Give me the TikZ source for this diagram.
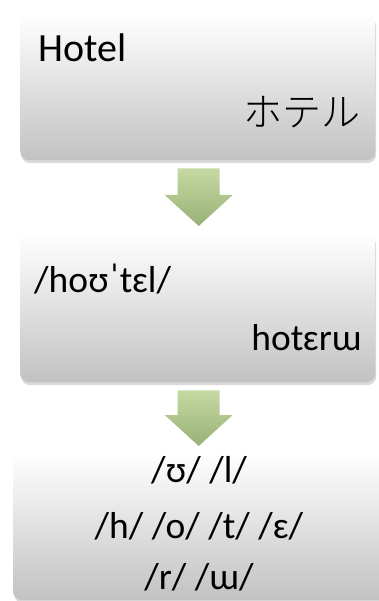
\documentclass[tikz,border=0pt]{standalone}
\usepackage{fontspec}
\setmainfont{Carlito}
\newfontfamily\jpfont{Noto Sans CJK JP Light}
\usetikzlibrary{calc,shadows}
\definecolor{greentop}{HTML}{C6D9A2}
\definecolor{greenbot}{HTML}{97B177}

\begin{document}
\begin{tikzpicture}[x=1pt, y=-1pt,
  card/.style={rounded corners=9pt, top color=white, bottom color=black!24,
    drop shadow={shadow xshift=1pt, shadow yshift=-3pt, opacity=0.3},
    minimum width=355pt, minimum height=146pt, anchor=north west, inner sep=0pt},
  word/.style={font=\fontsize{37.5}{45}\selectfont, inner sep=0pt},
  downarrow/.style={top color=greentop, bottom color=greenbot, draw=none}
]
\useasboundingbox (0,0) rectangle (379,601);
\clip (0,0) rectangle (379,601);
\node[card] (hotel) at (20,14) {};
\node[card, minimum height=149pt] (ipa) at (20,233) {};
\node[card, minimum width=400pt, minimum height=147pt] (phon) at (13,453) {};

\node[word, anchor=base west, font=\fontsize{40}{48}\selectfont] (en) at (38,62) {Hotel};
\node[word, anchor=base east, font=\jpfont\fontsize{39}{45}\selectfont] (jp) at (361,127) {ホテル};
\node[word, anchor=base west] (pron) at (34,292) {/hoʊˈtɛl/};
\node[word, anchor=base east] (kata) at (362,350) {hotɛrɯ};

\node[word, anchor=base] (row1) at (199,482) {/ʊ/ /l/};
\node[word, anchor=base] (row2) at (199,538) {/h/ /o/ /t/ /ɛ/};
\node[word, anchor=base] (row3) at (199,589) {/r/ /ɯ/};

% block arrows between the cards
\foreach \a/\b in {hotel/ipa, ipa/phon}
  \shade[downarrow] ($(\a.south)+(-20,8)$) -- ($(\a.south)+(22,8)$)
    -- ($(\a.south |- \b.north)+(22,-38)$) -- ($(\a.south |- \b.north)+(35,-38)$)
    -- ($(\a.south |- \b.north)+(1,-7)$) -- ($(\a.south |- \b.north)+(-33,-38)$)
    -- ($(\a.south |- \b.north)+(-20,-38)$) -- cycle;
\end{tikzpicture}
\end{document}
